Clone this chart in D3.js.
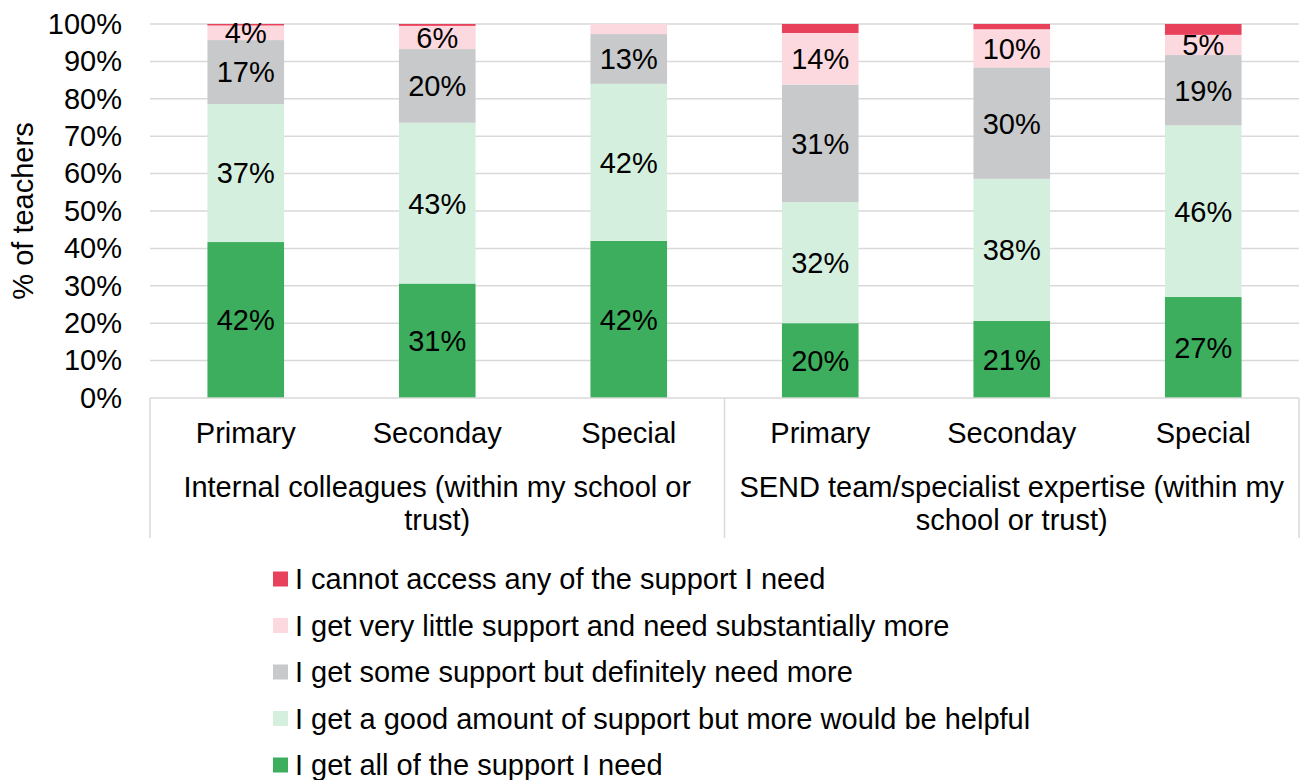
<!DOCTYPE html>
<html>
<head>
<meta charset="utf-8">
<script src="https://cdn.jsdelivr.net/npm/d3@7"></script>
<style>
  html, body { margin: 0; padding: 0; background: #fff; }
  svg { display: block; font-family: "Liberation Sans", Arial, sans-serif; }
</style>
</head>
<body>
<svg id="chart" width="1307" height="780"></svg>
<script>
// ---- data ----
const groups = [
  ["Internal colleagues (within my school or", "trust)"],
  ["SEND team/specialist expertise (within my", "school or trust)"]
];
const categories = ["Primary", "Seconday", "Special"];
const seriesNames = [
  "I get all of the support I need",
  "I get a good amount of support but more would be helpful",
  "I get some support but definitely need more",
  "I get very little support and need substantially more",
  "I cannot access any of the support I need"
];
const allSupport   = [41.7, 30.6, 42.0, 20.0, 20.6, 27.0];
const goodAmount   = [36.9, 43.0, 42.0, 32.4, 38.0, 45.9];
const someSupport  = [17.1, 19.7, 13.3, 31.4, 29.8, 18.8];
const veryLittle   = [3.9, 6.2, 2.7, 13.8, 10.2, 5.4];
const cannotAccess = [0.4, 0.5, 0.0, 2.4, 1.4, 2.9];
const seriesColors = ["#3DAE5E", "#D5EFDE", "#C8C9CB", "#FCD8DF", "#E8415C"];
const yTicks = [0, 10, 20, 30, 40, 50, 60, 70, 80, 90, 100];

// ---- build table ----
const seriesValues = [allSupport, goodAmount, someSupport, veryLittle, cannotAccess];
const rows = [];
groups.forEach((g, gi) => categories.forEach((c, ci) => {
  const i = gi * categories.length + ci;
  const row = { key: gi + "|" + c, group: gi, cat: c };
  seriesNames.forEach((s, si) => row[s] = seriesValues[si][i]);
  rows.push(row);
}));

const svg = d3.select("#chart");
const FONT = 29;
const plot = { left: 150, right: 1299, top: 24, bottom: 398 };

const x = d3.scaleBand().domain(rows.map(r => r.key)).range([plot.left, plot.right]).paddingInner(0.6).paddingOuter(0.3);
const y = d3.scaleLinear().domain([0, 100]).range([plot.bottom, plot.top]);

// gridlines
svg.append("g").selectAll("line").data(yTicks.filter(t => t > 0)).join("line")
  .attr("x1", plot.left).attr("x2", plot.right)
  .attr("y1", d => y(d)).attr("y2", d => y(d))
  .attr("stroke", "#d9d9d9").attr("stroke-width", 1.5);

// y axis labels
const yAxis = d3.axisLeft(y).tickValues(yTicks).tickFormat(d => d + "%").tickSize(0).tickPadding(0);
const ya = svg.append("g").attr("transform", `translate(${plot.left - 28},0)`).call(yAxis);
ya.select(".domain").remove();
ya.selectAll("text").attr("font-size", FONT).attr("fill", "#000").attr("font-family", "Liberation Sans, Arial, sans-serif");

// y axis title
svg.append("text")
  .attr("transform", `translate(33,${(plot.top + plot.bottom) / 2}) rotate(-90)`)
  .attr("text-anchor", "middle").attr("font-size", FONT).attr("fill", "#000")
  .text("% of teachers");

// stacks
const stack = d3.stack().keys(seriesNames)(rows);
const layers = svg.append("g").selectAll("g").data(stack).join("g")
  .attr("fill", (d, i) => seriesColors[i]);
layers.selectAll("rect").data(d => d).join("rect")
  .attr("x", d => x(d.data.key))
  .attr("width", x.bandwidth())
  .attr("y", d => y(d[1]))
  .attr("height", d => y(d[0]) - y(d[1]));

// labels
const labelG = svg.append("g");
stack.forEach(layer => {
  layer.forEach(d => {
    const v = d[1] - d[0];
    if (v < 3.5) return;
    labelG.append("text")
      .attr("x", x(d.data.key) + x.bandwidth() / 2)
      .attr("y", (y(d[0]) + y(d[1])) / 2)
      .attr("dy", "0.36em")
      .attr("text-anchor", "middle").attr("font-size", FONT).attr("fill", "#000")
      .text(Math.round(v) + "%");
  });
});

// x axis line and dividers
const axisG = svg.append("g").attr("stroke", "#d9d9d9").attr("stroke-width", 1.5);
axisG.append("line").attr("x1", plot.left).attr("x2", plot.right).attr("y1", plot.bottom).attr("y2", plot.bottom);
const groupW = (plot.right - plot.left) / groups.length;
d3.range(groups.length + 1).forEach(i => {
  const gx = plot.left + i * groupW;
  axisG.append("line").attr("x1", gx).attr("x2", gx).attr("y1", plot.bottom).attr("y2", 538);
});

// category labels
svg.append("g").selectAll("text").data(rows).join("text")
  .attr("x", d => x(d.key) + x.bandwidth() / 2)
  .attr("y", 443)
  .attr("text-anchor", "middle").attr("font-size", FONT).attr("fill", "#000")
  .text(d => d.cat);

// group labels
groups.forEach((lines, gi) => {
  const cx = plot.left + (gi + 0.5) * groupW;
  lines.forEach((ln, li) => {
    svg.append("text").attr("x", cx).attr("y", 497 + li * 33)
      .attr("text-anchor", "middle").attr("font-size", FONT).attr("fill", "#000")
      .text(ln);
  });
});

// legend (reverse order)
const legendOrder = seriesNames.map((s, i) => ({ name: s, color: seriesColors[i] })).reverse();
const lg = svg.append("g").attr("transform", "translate(273,579)");
legendOrder.forEach((d, i) => {
  const gy = i * 46.5;
  lg.append("rect").attr("x", 0).attr("y", gy - 7.5).attr("width", 15).attr("height", 15).attr("fill", d.color);
  lg.append("text").attr("x", 22).attr("y", gy).attr("dy", "0.36em")
    .attr("font-size", FONT).attr("fill", "#000").text(d.name);
});
</script>
</body>
</html>
